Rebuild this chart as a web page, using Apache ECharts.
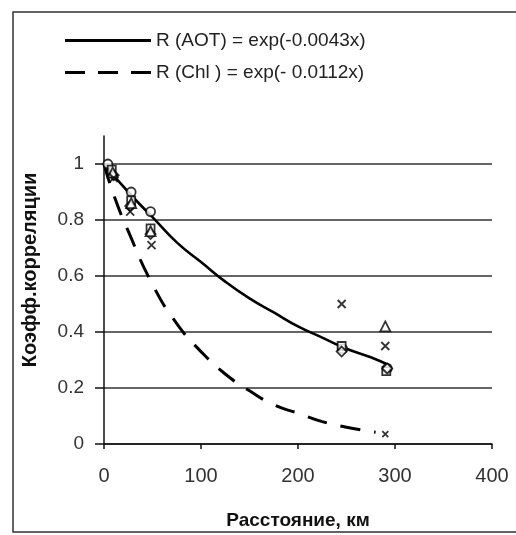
<!DOCTYPE html>
<html>
<head>
<meta charset="utf-8">
<script src="https://cdn.jsdelivr.net/npm/echarts@6/dist/echarts.min.js"></script>
<style>
  html, body { margin: 0; padding: 0; background: #fff; }
  #chart { width: 516px; height: 535px; }
</style>
</head>
<body>
<div id="chart"></div>
<script>
// fitted curves
const aotCurve = [[0, 1], [25, 0.9], [50, 0.81], [75, 0.72], [100, 0.65], [125, 0.58], [150, 0.52],
  [175, 0.47], [200, 0.42], [225, 0.38], [250, 0.34], [275, 0.31], [295, 0.28]];
const chlCurve = [[0, 1], [10, 0.89], [25, 0.76], [50, 0.57], [75, 0.43], [100, 0.33], [125, 0.25],
  [150, 0.19], [175, 0.14], [200, 0.11], [225, 0.08], [250, 0.06], [280, 0.042]];

// measured points
const ptsCircle = [[4, 1.0], [28, 0.9], [48, 0.83], [246, 0.34], [292, 0.27]];
const ptsSquare = [[8, 0.98], [28, 0.87], [48, 0.77], [245, 0.35], [291, 0.26]];
const ptsDiamond = [[10, 0.96], [27, 0.85], [48, 0.75], [245, 0.33], [292, 0.27]];
const ptsTriangle = [[9, 0.97], [28, 0.86], [48, 0.76], [290, 0.42]];
const ptsCross = [[10, 0.95], [27, 0.83], [49, 0.71], [245, 0.5], [290, 0.35]];
const ptsChl = [[290, 0.035]];

const xTicks = [0, 100, 200, 300, 400];
const yTicks = [0, 0.2, 0.4, 0.6, 0.8, 1];

const legendNames = ['R (AOT) = exp(-0.0043x)', 'R (Chl ) = exp(- 0.0112x)'];

const font = '"Liberation Sans", Arial, sans-serif';
const crossPath = 'path://M0,0L10,10M10,0L0,10';
// legend samples: a solid bar and three dashes
const solidIcon = 'path://M0,0h86v3h-86z';
const dashIcon = 'path://M0,0h20v3h-20z M33,0h20v3h-20z M66,0h20v3h-20z';

function markerSeries(data, symbol, size) {
  return {
    type: 'scatter',
    data: data,
    symbol: symbol,
    symbolSize: size || 9,
    itemStyle: { color: '#fff', borderColor: '#000', borderWidth: 1.8 },
    z: 5
  };
}

var chart = echarts.init(document.getElementById('chart'));
chart.setOption({
  animation: false,
  backgroundColor: '#fff',
  grid: { left: 104, right: 24, top: 136, bottom: 90 },
  legend: {
    orient: 'vertical',
    left: 60,
    top: 26,
    itemWidth: 86,
    itemHeight: 3,
    itemGap: 13,
    itemStyle: { color: '#000', borderWidth: 0 },
    data: [
      { name: legendNames[0], icon: solidIcon },
      { name: legendNames[1], icon: dashIcon }
    ],
    textStyle: { fontFamily: font, fontSize: 19, lineHeight: 19, color: '#222' }
  },
  xAxis: {
    type: 'value',
    min: 0,
    max: 400,
    interval: 100,
    name: 'Расстояние, км',
    nameLocation: 'middle',
    nameGap: 67,
    nameTextStyle: { fontFamily: font, fontSize: 19, fontWeight: 'bold', color: '#111' },
    axisLine: { lineStyle: { color: '#111', width: 1.5 } },
    axisTick: { show: true, length: 5, lineStyle: { color: '#111', width: 1.5 } },
    axisLabel: { customValues: xTicks, margin: 22, fontFamily: font, fontSize: 20, color: '#333' },
    splitLine: { show: false }
  },
  yAxis: {
    type: 'value',
    min: 0,
    max: 1.1,
    interval: 0.2,
    axisLine: { show: true, lineStyle: { color: '#111', width: 1.5 } },
    axisTick: { show: true, customValues: yTicks, length: 9, lineStyle: { color: '#111', width: 1.5 } },
    axisLabel: { customValues: yTicks, margin: 20, fontFamily: font, fontSize: 19, color: '#333' },
    splitLine: { show: true, lineStyle: { color: '#333', width: 1.6 } }
  },
  graphic: [
    {
      type: 'rect',
      shape: { x: 13, y: 12, width: 540, height: 520 },
      style: { fill: 'none', stroke: '#333', lineWidth: 1.5 },
      silent: true
    },
    {
      type: 'text',
      x: 30,
      y: 270,
      rotation: Math.PI / 2,
      style: {
        text: 'Коэфф.корреляции',
        font: 'bold 20px ' + font,
        fill: '#111',
        align: 'center',
        verticalAlign: 'middle'
      }
    }
  ],
  series: [
    {
      name: legendNames[0],
      type: 'line',
      data: aotCurve,
      smooth: true,
      symbol: 'none',
      lineStyle: { color: '#000', width: 2.6 },
      z: 4
    },
    {
      name: legendNames[1],
      type: 'line',
      data: chlCurve,
      smooth: true,
      symbol: 'none',
      lineStyle: { color: '#000', width: 3, type: [20, 14] },
      z: 4
    },
    markerSeries(ptsCircle, 'circle', 9),
    markerSeries(ptsSquare, 'rect', 8),
    markerSeries(ptsDiamond, 'diamond', 10),
    markerSeries(ptsTriangle, 'triangle', 10),
    markerSeries(ptsCross, crossPath, 8),
    markerSeries(ptsChl, crossPath, 6)
  ]
});
</script>
</body>
</html>
